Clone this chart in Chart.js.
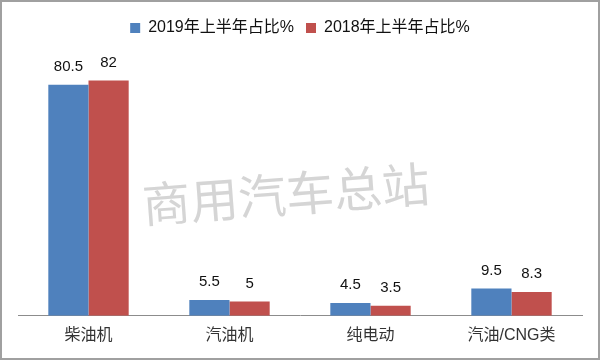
<!DOCTYPE html>
<html>
<head>
<meta charset="utf-8">
<script src="https://cdn.jsdelivr.net/npm/chart.js@4.4.1/dist/chart.umd.min.js"></script>
<style>
html,body{margin:0;padding:0;background:#fff}
#wrap{width:600px;height:360px;box-sizing:border-box;border:2px solid #a0a0a0;position:relative;background:#fff}
</style>
</head>
<body>
<div id="wrap"><canvas id="c" width="596" height="356"></canvas></div>
<script>
// 数据
const categories=['柴油机','汽油机','纯电动','汽油/CNG类'];
const share2019=[80.5,5.5,4.5,9.5];
const share2018=[82,5,3.5,8.3];
const FONT='"Liberation Sans","Noto Sans CJK SC",sans-serif';

// 数值标签
const barLabels={id:'barLabels',
  afterDatasetsDraw(chart){
    const ctx=chart.ctx;ctx.save();
    ctx.font='15px '+FONT;ctx.fillStyle='#111';ctx.textAlign='center';ctx.textBaseline='middle';
    chart.data.datasets.forEach((ds,di)=>{
      chart.getDatasetMeta(di).data.forEach((bar,i)=>{ctx.fillText(String(ds.data[i]),bar.x,bar.y-18)});
    });
    ctx.restore()}
};
// 水印
const watermark={id:'watermark',
  afterDraw(chart){
    const ctx=chart.ctx;ctx.save();
    ctx.translate(284,192);ctx.rotate(-0.075);
    ctx.font='48px "Noto Sans CJK SC",sans-serif';ctx.fillStyle='rgba(195,195,195,0.7)';
    ctx.textAlign='center';ctx.textBaseline='middle';
    ctx.fillText('商用汽车总站',0,0);
    ctx.restore()}
};

new Chart(document.getElementById('c'),{
  type:'bar',
  data:{labels:categories,datasets:[
    {label:'2019年上半年占比%',data:share2019,backgroundColor:'#4f81bd',borderWidth:0,barPercentage:1,categoryPercentage:0.57},
    {label:'2018年上半年占比%',data:share2018,backgroundColor:'#c0504d',borderWidth:0,barPercentage:1,categoryPercentage:0.57}
  ]},
  options:{responsive:false,animation:false,
    layout:{padding:{left:16,right:16,top:6,bottom:3}},
    plugins:{legend:{position:'top',labels:{color:'#111',font:{family:FONT,size:16},boxWidth:10,boxHeight:10,padding:12}},tooltip:{enabled:false}},
    scales:{
      x:{grid:{display:false,drawTicks:false},border:{color:'#8c8c8c',width:1},ticks:{color:'#333',font:{family:FONT,size:16},padding:10}},
      y:{display:false,min:0,max:94}
    }
  },
  plugins:[barLabels,watermark]
});
</script>
</body>
</html>
